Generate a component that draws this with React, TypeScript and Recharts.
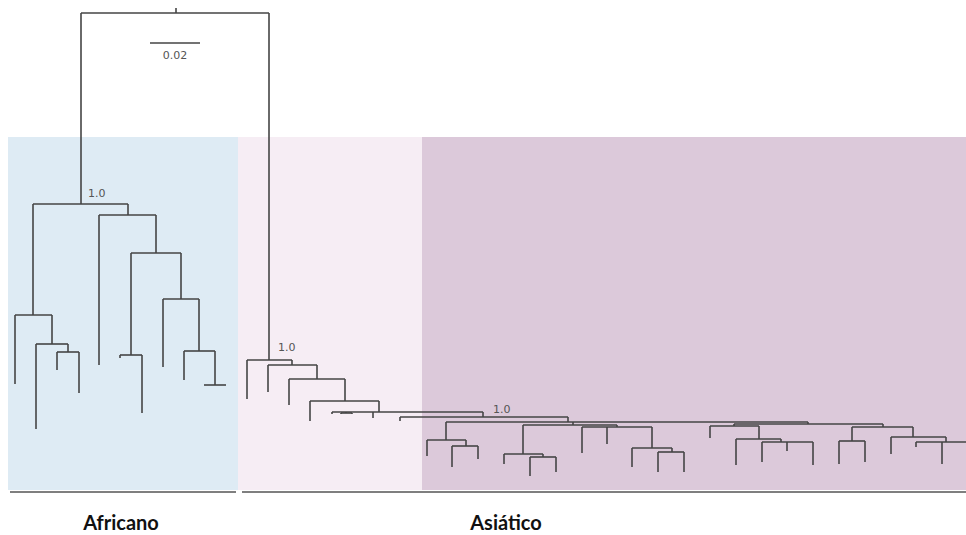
import { ComposedChart, XAxis, YAxis, ReferenceLine, ReferenceArea, ReferenceDot } from 'recharts'

// nodos del árbol: x = posición horizontal, y = profundidad (distancia acumulada, en px del dibujo)
const backbone = [
  { id: 'origin', parent: null, x: 176, y: 8 },
  { id: 'root', parent: 'origin', x: 176, y: 13 },
]

const africano = [
  { id: 'af', parent: 'root', x: 81, y: 204 },
  { id: 'af1', parent: 'af', x: 33, y: 315 },
  { id: 'af1a', parent: 'af1', x: 15, y: 384 },
  { id: 'af2', parent: 'af1', x: 52, y: 344 },
  { id: 'af2a', parent: 'af2', x: 36, y: 429 },
  { id: 'af3', parent: 'af2', x: 68, y: 352 },
  { id: 'af3a', parent: 'af3', x: 57, y: 370 },
  { id: 'af3b', parent: 'af3', x: 79, y: 393 },
  { id: 'af4', parent: 'af', x: 128, y: 215 },
  { id: 'af4a', parent: 'af4', x: 99, y: 365 },
  { id: 'af5', parent: 'af4', x: 156, y: 253 },
  { id: 'af6', parent: 'af5', x: 131, y: 355 },
  { id: 'af6a', parent: 'af6', x: 120, y: 358 },
  { id: 'af6b', parent: 'af6', x: 142, y: 413 },
  { id: 'af7', parent: 'af5', x: 181, y: 299 },
  { id: 'af7a', parent: 'af7', x: 163, y: 367 },
  { id: 'af8', parent: 'af7', x: 199, y: 351 },
  { id: 'af8a', parent: 'af8', x: 184, y: 380 },
  { id: 'af9', parent: 'af8', x: 215, y: 385 },
  { id: 'af9a', parent: 'af9', x: 204, y: 385 },
  { id: 'af9b', parent: 'af9', x: 226, y: 385 },
]

const asiaticoBase = [
  { id: 'as', parent: 'root', x: 269, y: 360 },
  { id: 'as0a', parent: 'as', x: 247, y: 399 },
  { id: 'as1', parent: 'as', x: 292, y: 365 },
  { id: 'as1a', parent: 'as1', x: 268, y: 392 },
  { id: 'as2', parent: 'as1', x: 317, y: 379 },
  { id: 'as2a', parent: 'as2', x: 289, y: 405 },
  { id: 'as3', parent: 'as2', x: 345, y: 401 },
  { id: 'as3a', parent: 'as3', x: 310, y: 421 },
  { id: 'as4', parent: 'as3', x: 379, y: 412 },
  { id: 'as4a', parent: 'as4', x: 332, y: 414 },
  { id: 'as4b', parent: 'as4', x: 346, y: 413 },
  { id: 'as4b1', parent: 'as4b', x: 341, y: 414 },
  { id: 'as4b2', parent: 'as4b', x: 352, y: 414 },
  { id: 'as4c', parent: 'as4', x: 373, y: 418 },
  { id: 'as5', parent: 'as4', x: 483, y: 417 },
  { id: 'as5a', parent: 'as5', x: 400, y: 421 },
  { id: 'as6', parent: 'as5', x: 568, y: 422 },
]

const asiaticoIzq = [
  { id: 's1', parent: 'as6', x: 446, y: 440 },
  { id: 's1a', parent: 's1', x: 427, y: 456 },
  { id: 's1b', parent: 's1', x: 466, y: 446 },
  { id: 's1b1', parent: 's1b', x: 452, y: 467 },
  { id: 's1b2', parent: 's1b', x: 478, y: 459 },
  { id: 'x', parent: 'as6', x: 573, y: 425 },
  { id: 's2', parent: 'x', x: 523, y: 454 },
  { id: 's2a', parent: 's2', x: 504, y: 464 },
  { id: 's2b', parent: 's2', x: 543, y: 457 },
  { id: 's2b1', parent: 's2b', x: 530, y: 476 },
  { id: 's2b2', parent: 's2b', x: 556, y: 472 },
  { id: 'xb', parent: 'x', x: 617, y: 427 },
  { id: 'xb1', parent: 'xb', x: 582, y: 453 },
  { id: 'xb2', parent: 'xb', x: 607, y: 444 },
  { id: 'xc', parent: 'xb', x: 652, y: 448 },
  { id: 'xc1', parent: 'xc', x: 632, y: 467 },
  { id: 'xd', parent: 'xc', x: 672, y: 452 },
  { id: 'xd1', parent: 'xd', x: 658, y: 472 },
  { id: 'xd2', parent: 'xd', x: 684, y: 472 },
]

const asiaticoDer = [
  { id: 'r', parent: 'as6', x: 808, y: 424 },
  { id: 'p', parent: 'r', x: 734, y: 426 },
  { id: 'p1', parent: 'p', x: 710, y: 438 },
  { id: 'p2', parent: 'p', x: 759, y: 439 },
  { id: 'p2a', parent: 'p2', x: 736, y: 465 },
  { id: 'p3', parent: 'p2', x: 781, y: 442 },
  { id: 'p3a', parent: 'p3', x: 762, y: 462 },
  { id: 'p3b', parent: 'p3', x: 787, y: 451 },
  { id: 'p3c', parent: 'p3', x: 813, y: 465 },
  { id: 'q', parent: 'r', x: 883, y: 427 },
  { id: 'q1', parent: 'q', x: 852, y: 441 },
  { id: 'q1a', parent: 'q1', x: 839, y: 464 },
  { id: 'q1b', parent: 'q1', x: 865, y: 462 },
  { id: 'q2', parent: 'q', x: 913, y: 437 },
  { id: 'q2a', parent: 'q2', x: 891, y: 454 },
  { id: 'q3', parent: 'q2', x: 946, y: 442 },
  { id: 'q3a', parent: 'q3', x: 916, y: 447 },
  { id: 'q3b', parent: 'q3', x: 942, y: 464 },
  { id: 'q3c', parent: 'q3', x: 972, y: 464 },
]

const soportes = [
  { x: 88, y: 197, text: '1.0' },
  { x: 278, y: 351, text: '1.0' },
  { x: 493, y: 413, text: '1.0' },
]

const bandas = [
  { from: 8, to: 238, color: '#deebf4' },
  { from: 238, to: 422, color: '#f6edf4' },
  { from: 422, to: 966, color: '#dcc9da' },
]

const grupos = [
  { name: 'Africano', from: 10, to: 236 },
  { name: 'Asiático', from: 242, to: 966 },
]

const escala = { from: 150, to: 200, y: 43, label: '0.02' }

const allNodes = [...backbone, ...africano, ...asiaticoBase, ...asiaticoIzq, ...asiaticoDer]

function buildSegments() {
  const byId = new Map(allNodes.map((n) => [n.id, n]))
  const segs: { x: number; y: number }[][] = []
  for (const n of allNodes) {
    if (n.parent) {
      const p = byId.get(n.parent)!
      segs.push([{ x: n.x, y: p.y }, { x: n.x, y: n.y }])
    }
    const kids = allNodes.filter((c) => c.parent === n.id)
    if (kids.length > 1) {
      const xs = kids.map((k) => k.x).concat(n.x)
      segs.push([{ x: Math.min(...xs), y: n.y }, { x: Math.max(...xs), y: n.y }])
    }
  }
  return segs
}

const TREE = '#454545'

function TextMark(props: any) {
  const { cx, cy, text, anchor, size, weight, family } = props
  return (
    <text
      x={cx}
      y={cy}
      textAnchor={anchor}
      fontSize={size}
      fontWeight={weight}
      fontFamily={family}
      fill={weight === 700 ? '#111' : '#555'}
    >
      {text}
    </text>
  )
}

export default function App() {
  const segs = buildSegments()
  return (
    <div style={{ position: 'absolute', left: 0, top: 0, background: '#fff' }}>
      <ComposedChart width={966} height={535} margin={{ top: 0, right: 0, bottom: 0, left: 0 }} data={[]}>
        <XAxis type="number" dataKey="x" domain={[0, 966]} hide allowDataOverflow />
        <YAxis type="number" domain={[0, 535]} reversed hide allowDataOverflow />
        {bandas.map((b, i) => (
          <ReferenceArea key={'b' + i} x1={b.from} x2={b.to} y1={137} y2={490} fill={b.color} fillOpacity={1} stroke="none" ifOverflow="visible" />
        ))}
        {segs.map((s, i) => (
          <ReferenceLine key={'s' + i} segment={s} stroke={TREE} strokeWidth={1.6} ifOverflow="visible" />
        ))}
        <ReferenceLine segment={[{ x: escala.from, y: escala.y }, { x: escala.to, y: escala.y }]} stroke={TREE} strokeWidth={1.3} />
        <ReferenceDot
          x={(escala.from + escala.to) / 2}
          y={59}
          r={0}
          shape={(p: any) => <TextMark {...p} text={escala.label} anchor="middle" size={11} weight={400} family="DejaVu Sans" />}
        />
        {soportes.map((s, i) => (
          <ReferenceDot
            key={'l' + i}
            x={s.x}
            y={s.y}
            r={0}
            shape={(p: any) => <TextMark {...p} text={s.text} anchor="start" size={11} weight={400} family="DejaVu Sans" />}
          />
        ))}
        {grupos.map((g, i) => (
          <ReferenceLine key={'g' + i} segment={[{ x: g.from, y: 492 }, { x: g.to, y: 492 }]} stroke="#555" strokeWidth={1.6} ifOverflow="visible" />
        ))}
        {grupos.map((g, i) => (
          <ReferenceDot
            key={'t' + i}
            x={i === 0 ? 121 : 506}
            y={530}
            r={0}
            shape={(p: any) => <TextMark {...p} text={g.name} anchor="middle" size={20} weight={700} family="Lato" />}
          />
        ))}
      </ComposedChart>
    </div>
  )
}
